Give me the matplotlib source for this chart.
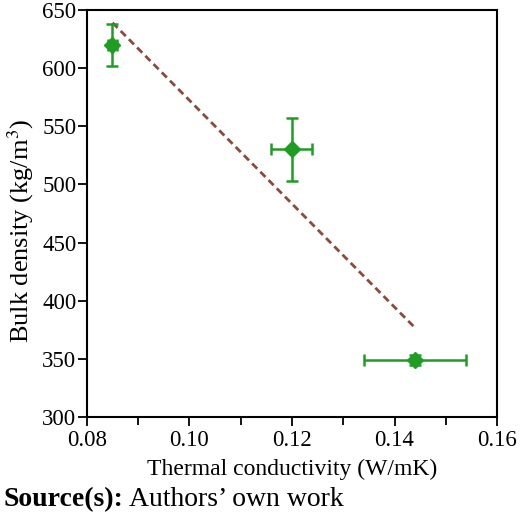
import matplotlib
matplotlib.use("Agg")
import matplotlib.pyplot as plt
import numpy as np

conductivity = np.array([0.085, 0.120, 0.144])
conductivity_err = np.array([0.0008, 0.004, 0.010])
density = np.array([620, 530, 349])
density_err = np.array([18, 27, 4])

x_ticks = [0.08, 0.10, 0.12, 0.14, 0.16]
y_ticks = [300, 350, 400, 450, 500, 550, 600, 650]

plt.rcParams['font.family'] = ['Liberation Serif', 'DejaVu Serif']
plt.rcParams['mathtext.fontset'] = 'stix'

fig = plt.figure(figsize=(5.2, 5.2), dpi=100)
ax = fig.add_axes([0.167, 0.198, 0.789, 0.783])

green = '#1f9c22'
ax.errorbar(conductivity, density, xerr=conductivity_err, yerr=density_err,
            fmt='D', color=green, ms=8, elinewidth=1.8, capsize=4,
            capthick=1.8, zorder=3)

# least-squares trend line across the data range
slope, intercept = np.polyfit(conductivity, density, 1)
xs = np.array([conductivity.min(), conductivity.max()])
ax.plot(xs, slope * xs + intercept, '--', color='#8b4a3c', lw=2.0,
        dashes=(2.6, 1.6), zorder=2)

ax.set_xlim(0.08, 0.16)
ax.set_ylim(300, 650)
ax.set_xticks(x_ticks)
ax.set_xticklabels(['%.2f' % t for t in x_ticks])
ax.set_xticks(np.arange(0.09, 0.16, 0.02), minor=True)
ax.set_yticks(y_ticks)
ax.tick_params(axis='both', which='major', labelsize=16.5, length=6.5,
               width=1.3, direction='out', pad=1)
ax.tick_params(axis='x', which='major', pad=2.5)
ax.tick_params(axis='x', which='minor', length=6, width=1.3, direction='out')
for sp in ax.spines.values():
    sp.set_linewidth(1.5)

ax.set_xlabel('Thermal conductivity (W/mK)', fontsize=17, labelpad=6)
ax.set_ylabel('Bulk density (kg/m$^3$)', fontsize=19)
ax.yaxis.set_label_coords(-0.123, 0.457)

src = fig.text(0.006, 0.027, 'Source(s):', fontsize=20, fontweight='bold',
               ha='left', va='baseline')
fig.canvas.draw()
bb = src.get_window_extent().transformed(fig.transFigure.inverted())
fig.text(bb.x1 + 0.012, 0.027, 'Authors\u2019 own work', fontsize=20,
         ha='left', va='baseline')

fig.savefig('out.png', dpi=100)
